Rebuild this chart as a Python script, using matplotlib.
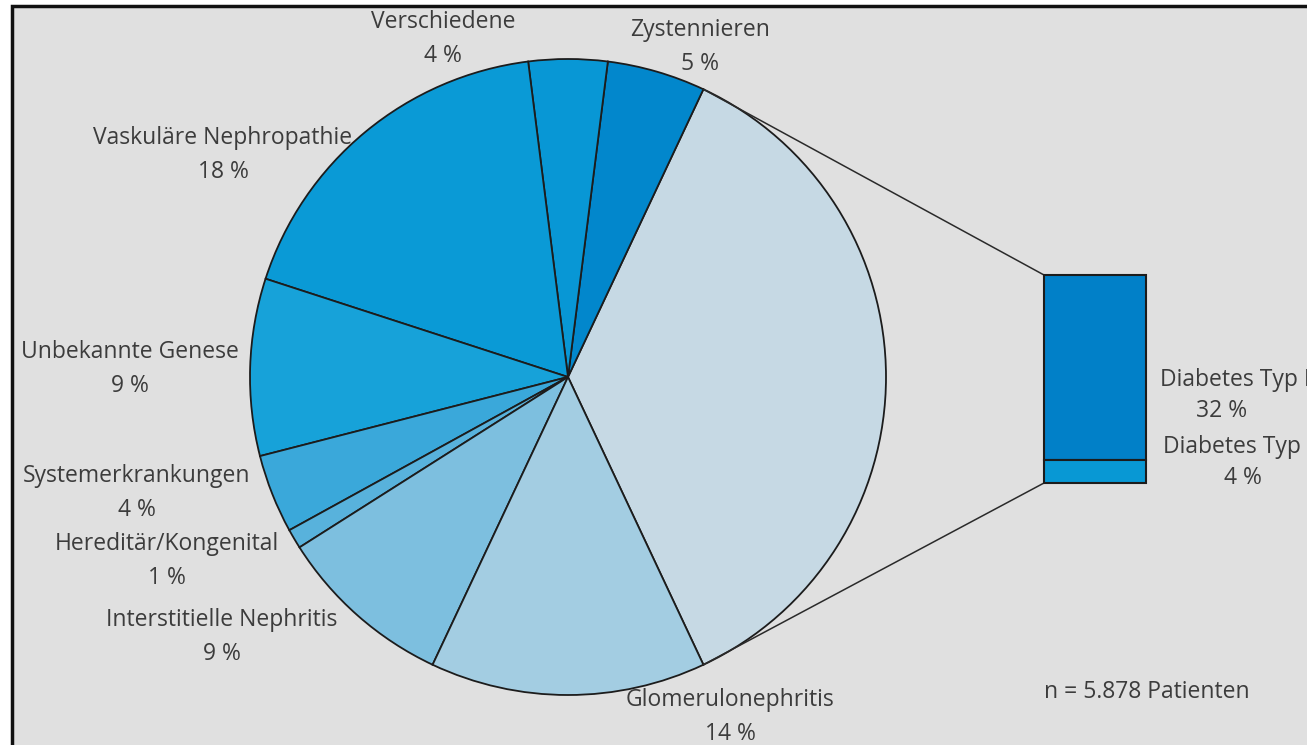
import numpy as np
import matplotlib.pyplot as plt
from matplotlib.patches import Rectangle

# Ursachen des Nierenversagens (Anteile in %)
causes = ['Diabetes', 'Zystennieren', 'Verschiedene', 'Vaskuläre Nephropathie',
          'Unbekannte Genese', 'Systemerkrankungen', 'Hereditär/Kongenital',
          'Interstitielle Nephritis', 'Glomerulonephritis']
shares = [36, 5, 4, 18, 9, 4, 1, 9, 14]
slice_colors = ['#c6d9e4', '#0287cc', '#0897d5', '#0a9ad6', '#17a2d9',
                '#3aa8da', '#58b2dc', '#7dbfdf', '#a3cde2']

# Aufteilung des Diabetes-Anteils
diabetes_types = ['Diabetes Typ II', 'Diabetes Typ I']
diabetes_shares = [32, 4]
diabetes_colors = ['#0180c8', '#0898d4']

note = 'n = 5.878 Patienten'

W, H = 1307, 745
bg = '#e0e0e0'
txt = '#3c3c3c'
fs = 16.5
plt.rcParams['font.family'] = ['Open Sans', 'DejaVu Sans']

fig = plt.figure(figsize=(W / 100, H / 100), dpi=100)
fig.patch.set_facecolor('white')
ax = fig.add_axes([0, 0, 1, 1])

# grey panel with black frame on left/top edges
ax.add_patch(Rectangle((12, -10), W + 20, H - 6 + 10, facecolor=bg,
                       edgecolor='#111111', linewidth=2.5, zorder=0))

cx, cy, r = 568, H - 377, 318
start = -64.8
wedges, _ = ax.pie(shares, colors=slice_colors, startangle=start,
                   counterclock=True, center=(cx, cy), radius=r,
                   wedgeprops=dict(edgecolor='#1c1c1c', linewidth=1.3))

# stacked bar for the diabetes split
bx, bw = 1095, 102
btop, bbot = H - 275, H - 483
scale = (btop - bbot) / sum(diabetes_shares)
bottom = btop
for val, col in zip(diabetes_shares, diabetes_colors):
    bottom -= val * scale
    ax.bar(bx, val * scale, width=bw, bottom=bottom, color=col,
           edgecolor='#1c1c1c', linewidth=1.5, zorder=3)

# connector lines from the diabetes wedge edges to the bar corners
a1 = np.deg2rad(start + shares[0] * 3.6)
a0 = np.deg2rad(start)
ax.plot([cx + r * np.cos(a1), bx - bw / 2], [cy + r * np.sin(a1), btop],
        color='#2a2a2a', lw=1.1, zorder=2)
ax.plot([cx + r * np.cos(a0), bx - bw / 2], [cy + r * np.sin(a0), bbot],
        color='#2a2a2a', lw=1.1, zorder=2)

# slice labels (name, percent)
label_pos = {
    'Zystennieren': (700, 30),
    'Verschiedene': (443, 22),
    'Vaskuläre Nephropathie': (223, 138),
    'Unbekannte Genese': (130, 352),
    'Systemerkrankungen': (137, 476),
    'Hereditär/Kongenital': (167, 544),
    'Interstitielle Nephritis': (222, 620),
    'Glomerulonephritis': (730, 700),
}
for name, val in zip(causes, shares):
    if name not in label_pos:
        continue
    x, y = label_pos[name]
    ax.text(x, H - y, name, ha='center', va='center', fontsize=fs, color=txt)
    ax.text(x, H - y - 34, f'{val} %', ha='center', va='center',
            fontsize=fs, color=txt)

for name, val, (x, y, px) in zip(diabetes_types, diabetes_shares,
                                 [(1160, 380, 1222), (1163, 447, 1243)]):
    ax.text(x, H - y, name, ha='left', va='center', fontsize=fs, color=txt)
    ax.text(px, H - y - 31, f'{val} %', ha='center', va='center',
            fontsize=fs, color=txt)

ax.text(1044, H - 692, note, ha='left', va='center', fontsize=fs, color=txt)

ax.set_xlim(0, W)
ax.set_ylim(0, H)
ax.set_aspect('auto')
ax.axis('off')

fig.savefig('out.png', dpi=100, facecolor=fig.get_facecolor())
